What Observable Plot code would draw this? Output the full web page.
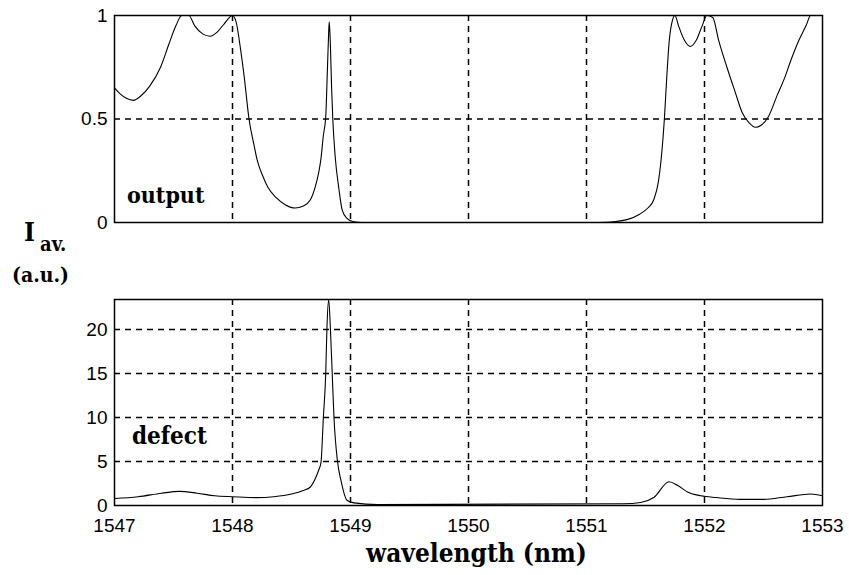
<!DOCTYPE html>
<html>
<head>
<meta charset="utf-8">
<script src="https://cdn.jsdelivr.net/npm/d3@7"></script>
<script src="https://cdn.jsdelivr.net/npm/@observablehq/plot@0.6"></script>
<style>
  html, body { margin: 0; padding: 0; background: #fff; }
  #wrap { position: relative; width: 849px; height: 575px; overflow: hidden; }
  #wrap svg { position: absolute; left: 0; background: #fff; }
  .lbl { position: absolute; font-family: "DejaVu Serif Condensed", "DejaVu Serif", serif; font-weight: bold; color: #000; white-space: nowrap; line-height: 1; }
</style>
</head>
<body>
<div id="wrap"></div>
<script>
// ---- data ----
const xTicks = [1547, 1548, 1549, 1550, 1551, 1552, 1553];
const xGrid = [1548, 1549, 1550, 1551, 1552];
const outputTicks = [0, 0.5, 1];
const outputGrid = [0.5];
const defectTicks = [0, 5, 10, 15, 20];
const defectGrid = [5, 10, 15, 20];

const outputX = [1547.0, 1547.05, 1547.1, 1547.16, 1547.22, 1547.3, 1547.39, 1547.46, 1547.52, 1547.57, 1547.63, 1547.68, 1547.75, 1547.81, 1547.87, 1547.93, 1548.0, 1548.03, 1548.07, 1548.1, 1548.14, 1548.18, 1548.21, 1548.26, 1548.3, 1548.37, 1548.45, 1548.53, 1548.6, 1548.66, 1548.7, 1548.73, 1548.75, 1548.77, 1548.79, 1548.805, 1548.815, 1548.82, 1548.83, 1548.84, 1548.85, 1548.87, 1548.9, 1548.93, 1548.97, 1549.02, 1549.1, 1551.1, 1551.25, 1551.35, 1551.45, 1551.52, 1551.57, 1551.61, 1551.64, 1551.66, 1551.68, 1551.7, 1551.73, 1551.75, 1551.78, 1551.83, 1551.88, 1551.93, 1551.98, 1552.02, 1552.07, 1552.12, 1552.19, 1552.26, 1552.32, 1552.38, 1552.43, 1552.48, 1552.54, 1552.62, 1552.68, 1552.73, 1552.8, 1552.86, 1552.9, 1553.0];
const outputY = [0.65, 0.62, 0.60, 0.59, 0.61, 0.66, 0.75, 0.86, 0.95, 1.0, 1.0, 0.95, 0.91, 0.90, 0.92, 0.96, 1.0, 0.97, 0.83, 0.70, 0.50, 0.38, 0.30, 0.22, 0.17, 0.12, 0.085, 0.07, 0.08, 0.11, 0.17, 0.24, 0.31, 0.42, 0.51, 0.75, 0.92, 0.97, 0.85, 0.65, 0.50, 0.32, 0.17, 0.06, 0.02, 0.005, 0, 0, 0.005, 0.015, 0.04, 0.07, 0.11, 0.20, 0.35, 0.50, 0.70, 0.87, 0.98, 1.0, 0.95, 0.88, 0.85, 0.88, 0.95, 1.0, 0.99, 0.88, 0.75, 0.63, 0.53, 0.48, 0.46, 0.47, 0.51, 0.62, 0.70, 0.78, 0.88, 0.95, 1.0, 1.0];

const defectX = [1547.0, 1547.2, 1547.4, 1547.55, 1547.7, 1547.85, 1548.0, 1548.2, 1548.35, 1548.5, 1548.6, 1548.66, 1548.7, 1548.73, 1548.75, 1548.77, 1548.79, 1548.8, 1548.815, 1548.83, 1548.845, 1548.86, 1548.89, 1548.92, 1548.97, 1549.03, 1549.23, 1551.31, 1551.46, 1551.57, 1551.7, 1551.77, 1551.86, 1551.97, 1552.1, 1552.3, 1552.5, 1552.7, 1552.9, 1553.0];
const defectY = [0.8, 1.0, 1.4, 1.6, 1.4, 1.1, 1.0, 0.9, 1.0, 1.3, 1.7, 2.1, 3.0, 4.0, 4.9, 10.0, 15.0, 20.0, 23.4, 20.0, 15.0, 10.0, 5.0, 2.8, 0.6, 0.3, 0.1, 0.2, 0.35, 0.9, 2.7, 2.3, 1.5, 1.1, 0.9, 0.7, 0.7, 1.0, 1.3, 1.1];

const outputData = outputX.map((x, i) => ({x, y: outputY[i]}));
const defectData = defectX.map((x, i) => ({x, y: defectY[i]}));

const dash = "6,5";
const gridW = 1.5;
const tickStyle = {fontFamily: "'Liberation Sans', Arial, sans-serif", fontSize: "19px", color: "#000", background: "#fff", overflow: "visible"};

const topPlot = Plot.plot({
  width: 849, height: 235,
  marginLeft: 114, marginRight: 27, marginTop: 15, marginBottom: 13,
  style: tickStyle,
  x: {domain: [1547, 1553]},
  y: {domain: [0, 1]},
  marks: [
    Plot.ruleX(xGrid, {stroke: "#000", strokeWidth: gridW, strokeDasharray: dash}),
    Plot.ruleY(outputGrid, {stroke: "#000", strokeWidth: gridW, strokeDasharray: dash}),
    Plot.line(outputData, {x: "x", y: "y", stroke: "#000", strokeWidth: 1.1, curve: "monotone-x"}),
    Plot.frame({stroke: "#000", strokeWidth: 1.5}),
    Plot.axisY(outputTicks, {tickSize: 0, tickPadding: 7, tickFormat: d => String(d), label: null}),
    Plot.axisX([], {label: null, tickSize: 0})
  ]
});
topPlot.style.top = "0px";

const bottomPlot = Plot.plot({
  width: 849, height: 340,
  marginLeft: 114, marginRight: 27, marginTop: 64, marginBottom: 70,
  style: tickStyle,
  x: {domain: [1547, 1553]},
  y: {domain: [0, 23.4]},
  marks: [
    Plot.ruleX(xGrid, {stroke: "#000", strokeWidth: gridW, strokeDasharray: dash}),
    Plot.ruleY(defectGrid, {stroke: "#000", strokeWidth: gridW, strokeDasharray: dash}),
    Plot.line(defectData, {x: "x", y: "y", stroke: "#000", strokeWidth: 1.1, curve: "monotone-x"}),
    Plot.frame({stroke: "#000", strokeWidth: 1.5}),
    Plot.axisY(defectTicks, {tickSize: 0, tickPadding: 7, label: null}),
    Plot.axisX(xTicks, {tickSize: 0, tickPadding: 13, tickFormat: d => String(d), label: null})
  ]
});
bottomPlot.style.top = "235px";

const wrap = document.getElementById("wrap");
wrap.appendChild(topPlot);
wrap.appendChild(bottomPlot);

function addLabel(text, left, topPx, size, extra) {
  const d = document.createElement("div");
  d.className = "lbl";
  d.textContent = text;
  d.style.left = left + "px";
  d.style.top = topPx + "px";
  d.style.fontSize = size + "px";
  if (extra) Object.assign(d.style, extra);
  wrap.appendChild(d);
  return d;
}
addLabel("output", 127, 183, 23);
addLabel("defect", 132, 424, 24);
addLabel("I", 24, 219, 26);
addLabel("av.", 40, 234, 20);
addLabel("(a.u.)", 12, 264, 21);
addLabel("wavelength (nm)", 366, 540, 26);
</script>
</body>
</html>
